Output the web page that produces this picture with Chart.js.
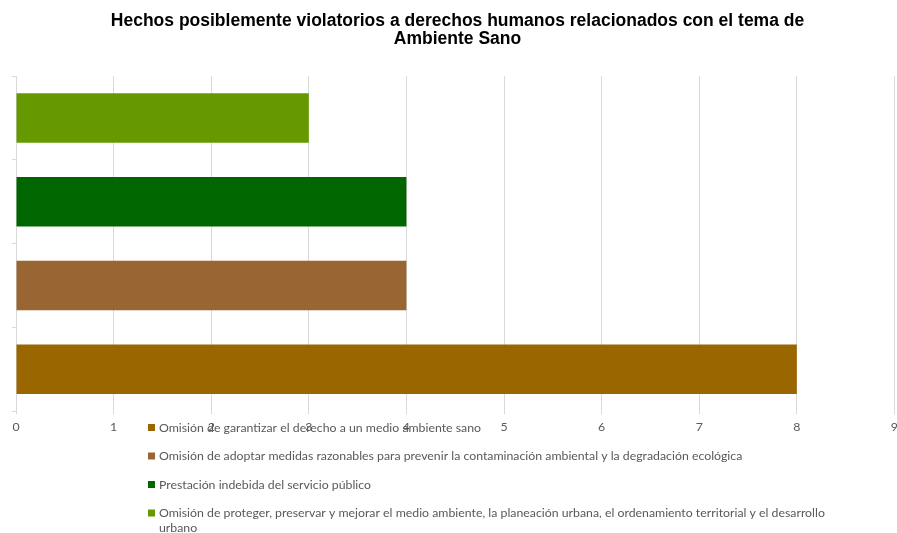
<!DOCTYPE html>
<html>
<head>
<meta charset="utf-8">
<script src="https://cdn.jsdelivr.net/npm/chart.js@4.4.1/dist/chart.umd.min.js"></script>
<style>
  html, body { margin: 0; padding: 0; background: #fff; overflow: hidden; }
  #wrap { width: 903px; height: 533px; position: relative; }
</style>
</head>
<body>
<div id="wrap"><canvas id="chart"></canvas></div>
<script>
const titulo = ['Hechos posiblemente violatorios a derechos humanos relacionados con el tema de', 'Ambiente Sano']

// categorías de abajo hacia arriba (mismo orden que la leyenda)
const categorias = [
  'Omisión de garantizar el derecho a un medio ambiente sano',
  'Omisión de adoptar medidas razonables para prevenir la contaminación ambiental y la degradación ecológica',
  'Prestación indebida del servicio público',
  ['Omisión de proteger, preservar y mejorar el medio ambiente, la planeación urbana, el ordenamiento territorial y el desarrollo', 'urbano']
]
const hechos = [8, 4, 4, 3]
const colores = ['#996600', '#996633', '#006600', '#669900']

const ejeMin = 0
const ejeMax = 9

const fuenteTexto = 'Lato, "Liberation Sans", sans-serif'

// leyenda dibujada a mano, encima del eje como en el original
const leyendaPlugin = {
  id: 'leyendaAbajo',
  afterDraw(chart) {
    const ctx = chart.ctx
    const x = 148
    let y = 428
    ctx.save()
    ctx.font = '12.3px ' + fuenteTexto
    ctx.textBaseline = 'middle'
    categorias.forEach((cat, i) => {
      const lineas = Array.isArray(cat) ? cat : [cat]
      ctx.fillStyle = colores[i]
      ctx.fillRect(x, y - 4, 7, 7)
      ctx.fillStyle = '#595959'
      lineas.forEach((l, j) => {
        ctx.fillText(l, x + 11, y + j * 15)
      })
      y += 28.5
    })
    ctx.restore()
  }
}

const ctx = document.getElementById('chart').getContext('2d')
new Chart(ctx, {
  type: 'bar',
  data: {
    labels: categorias,
    datasets: [{
      data: hechos,
      backgroundColor: colores,
      borderWidth: 0,
      categoryPercentage: 1,
      barPercentage: 0.59
    }]
  },
  options: {
    indexAxis: 'y',
    responsive: true,
    maintainAspectRatio: false,
    animation: false,
    layout: {
      padding: { left: 12, right: 0, top: 4, bottom: 94 }
    },
    plugins: {
      legend: { display: false },
      tooltip: { enabled: false },
      title: {
        display: true,
        text: titulo,
        color: '#000',
        font: { family: '"Liberation Sans", Arial, sans-serif', size: 17.5, weight: 'bold', lineHeight: 1.03 },
        padding: { top: 8, bottom: 28 }
      }
    },
    scales: {
      x: {
        min: ejeMin,
        max: ejeMax,
        ticks: {
          stepSize: 1,
          color: '#595959',
          font: { family: fuenteTexto, size: 12.3 },
          padding: 5
        },
        grid: { color: '#d9d9d9', tickLength: 3 },
        border: { display: false }
      },
      y: {
        reverse: true,
        ticks: { display: false },
        grid: { drawOnChartArea: false, color: '#d9d9d9', tickLength: 4, offset: true },
        border: { color: '#d9d9d9' }
      }
    }
  },
  plugins: [leyendaPlugin]
})
</script>
</body>
</html>
